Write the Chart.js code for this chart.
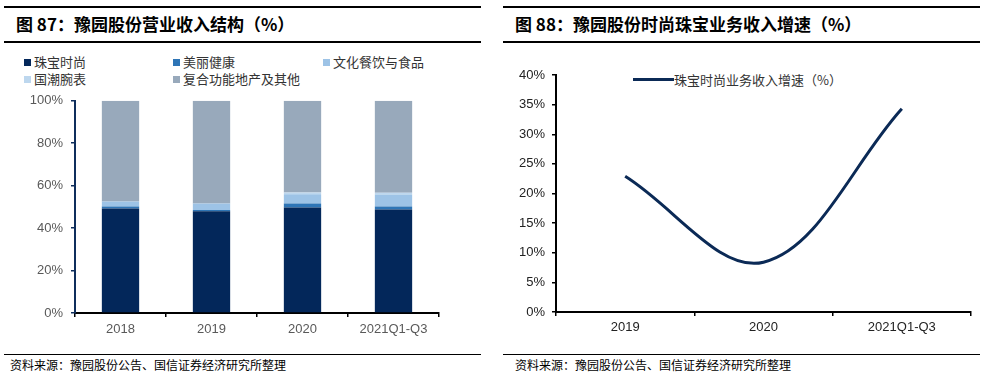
<!DOCTYPE html>
<html><head><meta charset="utf-8">
<script src="https://cdn.jsdelivr.net/npm/chart.js@4"></script>
<style>
html,body{margin:0;padding:0;background:#fff;width:986px;height:377px;overflow:hidden;position:relative;font-family:"Noto Sans CJK SC",sans-serif}
.hl{position:absolute;height:1.5px;background:#000}
.title{position:absolute;font-weight:bold;font-size:17px;line-height:20px;color:#000;white-space:nowrap}
.foot{position:absolute;font-size:12px;line-height:14px;color:#000;white-space:nowrap}
.leg{position:absolute;font-size:13px;line-height:16px;color:#333;white-space:nowrap}
.sq{display:inline-block;width:7px;height:7px;margin-right:3px;vertical-align:1px}
canvas{position:absolute}
</style></head><body>
<div class="hl" style="left:4px;top:6px;width:477px"></div>
<div class="hl" style="left:4px;top:41px;width:477px"></div>
<div class="hl" style="left:503px;top:6px;width:477px"></div>
<div class="hl" style="left:503px;top:41px;width:477px"></div>
<div class="hl" style="left:4px;top:354px;width:477px;height:1px"></div>
<div class="hl" style="left:503px;top:354px;width:477px;height:1px"></div>
<div class="title" style="left:16px;top:14px">图 87：豫园股份营业收入结构（%）</div>
<div class="title" style="left:515px;top:14px">图 88：豫园股份时尚珠宝业务收入增速（%）</div>
<div class="foot" style="left:10px;top:358px">资料来源：豫园股份公告、国信证券经济研究所整理</div>
<div class="foot" style="left:515px;top:358px">资料来源：豫园股份公告、国信证券经济研究所整理</div>
<div id="legL"></div>
<div class="leg" style="left:633px;top:72px"><span style="display:inline-block;width:41px;height:3px;background:#0b2a56;vertical-align:4px"></span>珠宝时尚业务收入增速（%）</div>
<canvas id="c1" width="493" height="255" style="left:0;top:85px;width:493px;height:255px"></canvas>
<canvas id="c2" width="493" height="280" style="left:493px;top:60px;width:493px;height:280px"></canvas>
<script>
// ---- data ----
const categoriesL = ["2018", "2019", "2020", "2021Q1-Q3"];
const jewelry = [49.2, 48.0, 49.7, 48.8];      // 珠宝时尚
const health = [1.0, 0.5, 1.9, 1.4];           // 美丽健康
const food = [2.3, 3.1, 4.4, 5.6];             // 文化餐饮与食品
const watch = [0.0, 0.0, 0.8, 0.9];            // 国潮腕表
const others = [47.5, 48.4, 43.2, 43.3];       // 复合功能地产及其他
const seriesNames = ["珠宝时尚", "美丽健康", "文化餐饮与食品", "国潮腕表", "复合功能地产及其他"];
const yTicksL = [0, 20, 40, 60, 80, 100];

const categoriesR = ["2019", "2020", "2021Q1-Q3"];
const growth = [22.9, 8.4, 34.3];              // 珠宝时尚业务收入增速（%）
const yTicksR = [0, 5, 10, 15, 20, 25, 30, 35, 40];

const colors = ["#03275a", "#2e75b6", "#9dc3e6", "#bdd7ee", "#98a9bb"];

// ---- legend (left) ----
const legPos = [[24, 54], [173, 54], [323, 54], [24, 71], [173, 71]];
const legL = document.getElementById('legL');
seriesNames.forEach((n, i) => {
  const d = document.createElement('div');
  d.className = 'leg';
  d.style.left = legPos[i][0] + 'px';
  d.style.top = legPos[i][1] + 'px';
  d.innerHTML = '<span class="sq" style="background:' + colors[i] + '"></span>' + n;
  legL.appendChild(d);
});

const tickFont = {family: "'Liberation Sans', Arial, sans-serif", size: 13};

new Chart(document.getElementById('c1'), {
  type: 'bar',
  data: {
    labels: categoriesL,
    datasets: [jewelry, health, food, watch, others].map((d, i) => ({
      label: seriesNames[i], data: d, backgroundColor: colors[i],
      categoryPercentage: 1, barPercentage: 0.41, borderWidth: 0
    }))
  },
  options: {
    responsive: false, animation: false,
    layout: {padding: {top: 5, right: 54, left: 0, bottom: 0}},
    plugins: {legend: {display: false}, tooltip: {enabled: false}},
    scales: {
      x: {
        stacked: true,
        border: {display: true, color: '#000', width: 2},
        grid: {display: true, drawOnChartArea: false, drawTicks: true, tickLength: 4, color: '#000', lineWidth: 1.5, offset: true},
        ticks: {color: '#595959', font: tickFont, padding: 5, maxRotation: 0},
        afterFit(s) { s.height = 27; }
      },
      y: {
        stacked: true, min: 0, max: 100,
        afterBuildTicks(s) { s.ticks = yTicksL.map(v => ({value: v})); },
        border: {display: true, color: '#0f2e5c', width: 2},
        grid: {display: true, drawOnChartArea: false, drawTicks: true, tickLength: 4, color: '#0f2e5c', lineWidth: 1.5},
        ticks: {color: '#595959', font: tickFont, padding: 8, callback: v => v + '%'},
        afterFit(s) { s.width = 75; }
      }
    }
  }
});

new Chart(document.getElementById('c2'), {
  type: 'line',
  data: {
    labels: categoriesR,
    datasets: [{
      label: '珠宝时尚业务收入增速（%）', data: growth,
      borderColor: '#0b2a56', borderWidth: 3, pointRadius: 0, tension: 0.36, fill: false
    }]
  },
  options: {
    responsive: false, animation: false,
    layout: {padding: {top: 15, right: 15, left: 0, bottom: 0}},
    plugins: {legend: {display: false}, tooltip: {enabled: false}},
    scales: {
      x: {
        offset: true,
        border: {display: true, color: '#000', width: 2},
        grid: {display: true, drawOnChartArea: false, drawTicks: true, tickLength: 4, color: '#000', lineWidth: 1.5, offset: true},
        ticks: {color: '#222', font: tickFont, padding: 4, maxRotation: 0},
        afterFit(s) { s.height = 28; }
      },
      y: {
        min: 0, max: 40,
        afterBuildTicks(s) { s.ticks = yTicksR.map(v => ({value: v})); },
        border: {display: true, color: '#000', width: 2},
        grid: {display: true, drawOnChartArea: false, drawTicks: true, tickLength: 4, color: '#000', lineWidth: 1.5},
        ticks: {color: '#222', font: tickFont, padding: 7, callback: v => v + '%'},
        afterFit(s) { s.width = 63; }
      }
    }
  }
});
</script>
</body></html>
